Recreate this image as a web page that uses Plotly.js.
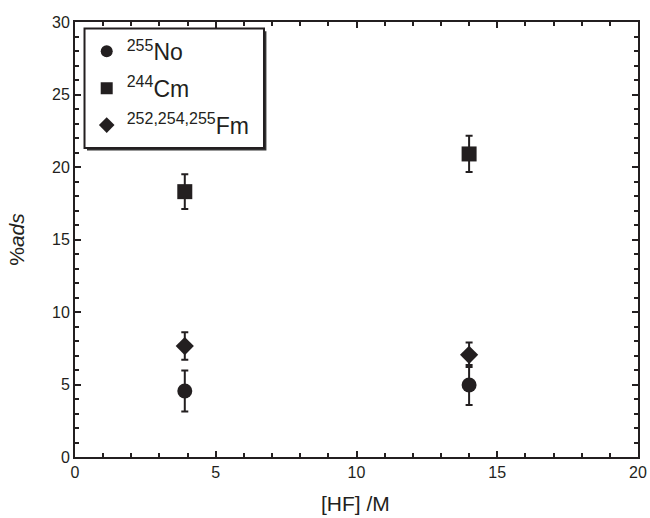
<!DOCTYPE html>
<html>
<head>
<meta charset="utf-8">
<script src="https://cdn.plot.ly/plotly-3.0.1.min.js"></script>
<style>html,body{margin:0;padding:0;background:#fff;}#chart{width:650px;height:518px;}</style>
</head>
<body>
<div id="chart"></div>
<script>
const hf = [3.9, 14.0];
const noVals = [4.55, 4.97];
const noErr = [1.42, 1.38];
const cmVals = [18.3, 20.9];
const cmErr = [1.2, 1.25];
const fmVals = [7.65, 7.05];
const fmErr = [0.95, 0.85];
const supNo = '255', supCm = '244', supFm = '252,254,255';
const xTitle = '[HF] /M';
const yTitle = '%<i>ads</i>';
const ink = '#231f20';

function lbl(sup, el) {
  return '<sup><span style="font-size:16px">' + sup + '</span></sup>' + el;
}
function tr(y, e, name, sym, g) {
  return {
    x: hf, y: y, name: name, type: 'scatter', mode: 'markers', legendgroup: g,
    marker: {symbol: sym, size: sym === 'diamond' ? 14 : 15, color: ink},
    error_y: {type: 'data', array: e, visible: true, color: ink, thickness: 2, width: 3.5}
  };
}
const data = [
  tr(noVals, noErr, lbl(supNo, 'No'), 'circle', 'a'),
  tr(cmVals, cmErr, lbl(supCm, 'Cm'), 'square', 'b'),
  tr(fmVals, fmErr, lbl(supFm, 'Fm'), 'diamond', 'c')
];
const axisCommon = {
  showline: true, linecolor: ink, linewidth: 2, mirror: 'allticks',
  ticks: 'inside', ticklen: 6, tickwidth: 2, tickcolor: ink,
  showgrid: false, zeroline: false,
  tickfont: {family: 'Liberation Sans, Arial, sans-serif', size: 16, color: ink}
};
const layout = {
  width: 650, height: 518,
  margin: {l: 75, r: 12, t: 22, b: 61},
  paper_bgcolor: '#fff', plot_bgcolor: '#fff',
  font: {family: 'Liberation Sans, Arial, sans-serif', color: ink},
  xaxis: Object.assign({}, axisCommon, {
    range: [0, 20], dtick: 5, tick0: 0,
    minor: {dtick: 1, ticks: 'inside', ticklen: 4, tickwidth: 2, tickcolor: ink}
  }),
  yaxis: Object.assign({}, axisCommon, {
    range: [0, 30], dtick: 5, tick0: 0,
    minor: {dtick: 1, ticks: 'inside', ticklen: 4, tickwidth: 2, tickcolor: ink},
    title: {text: yTitle, font: {size: 21, color: ink}, standoff: 22}
  }),
  annotations: [{
    text: xTitle, xref: 'paper', yref: 'paper', x: 0.498, y: -0.108,
    xanchor: 'center', yanchor: 'middle', showarrow: false,
    font: {size: 21, color: ink}
  }],
  showlegend: true,
  legend: {
    x: 0.0208, y: 0.982, xanchor: 'left', yanchor: 'top',
    bgcolor: 'rgba(0,0,0,0)', borderwidth: 0,
    font: {size: 23, color: ink}, tracegroupgap: 4,
    itemsizing: 'constant'
  },
  shapes: [
    {type: 'rect', xref: 'paper', yref: 'paper', layer: 'above',
     x0: 0.0213, x1: 0.340, y0: 0.7046, y1: 0.979,
     fillcolor: '#333', line: {width: 0}},
    {type: 'rect', xref: 'paper', yref: 'paper', layer: 'above',
     x0: 0.0169, x1: 0.3357, y0: 0.7103, y1: 0.985,
     fillcolor: '#fff', line: {color: ink, width: 2}}
  ]
};
Plotly.newPlot('chart', data, layout, {displayModeBar: false, staticPlot: true});
</script>
</body>
</html>
